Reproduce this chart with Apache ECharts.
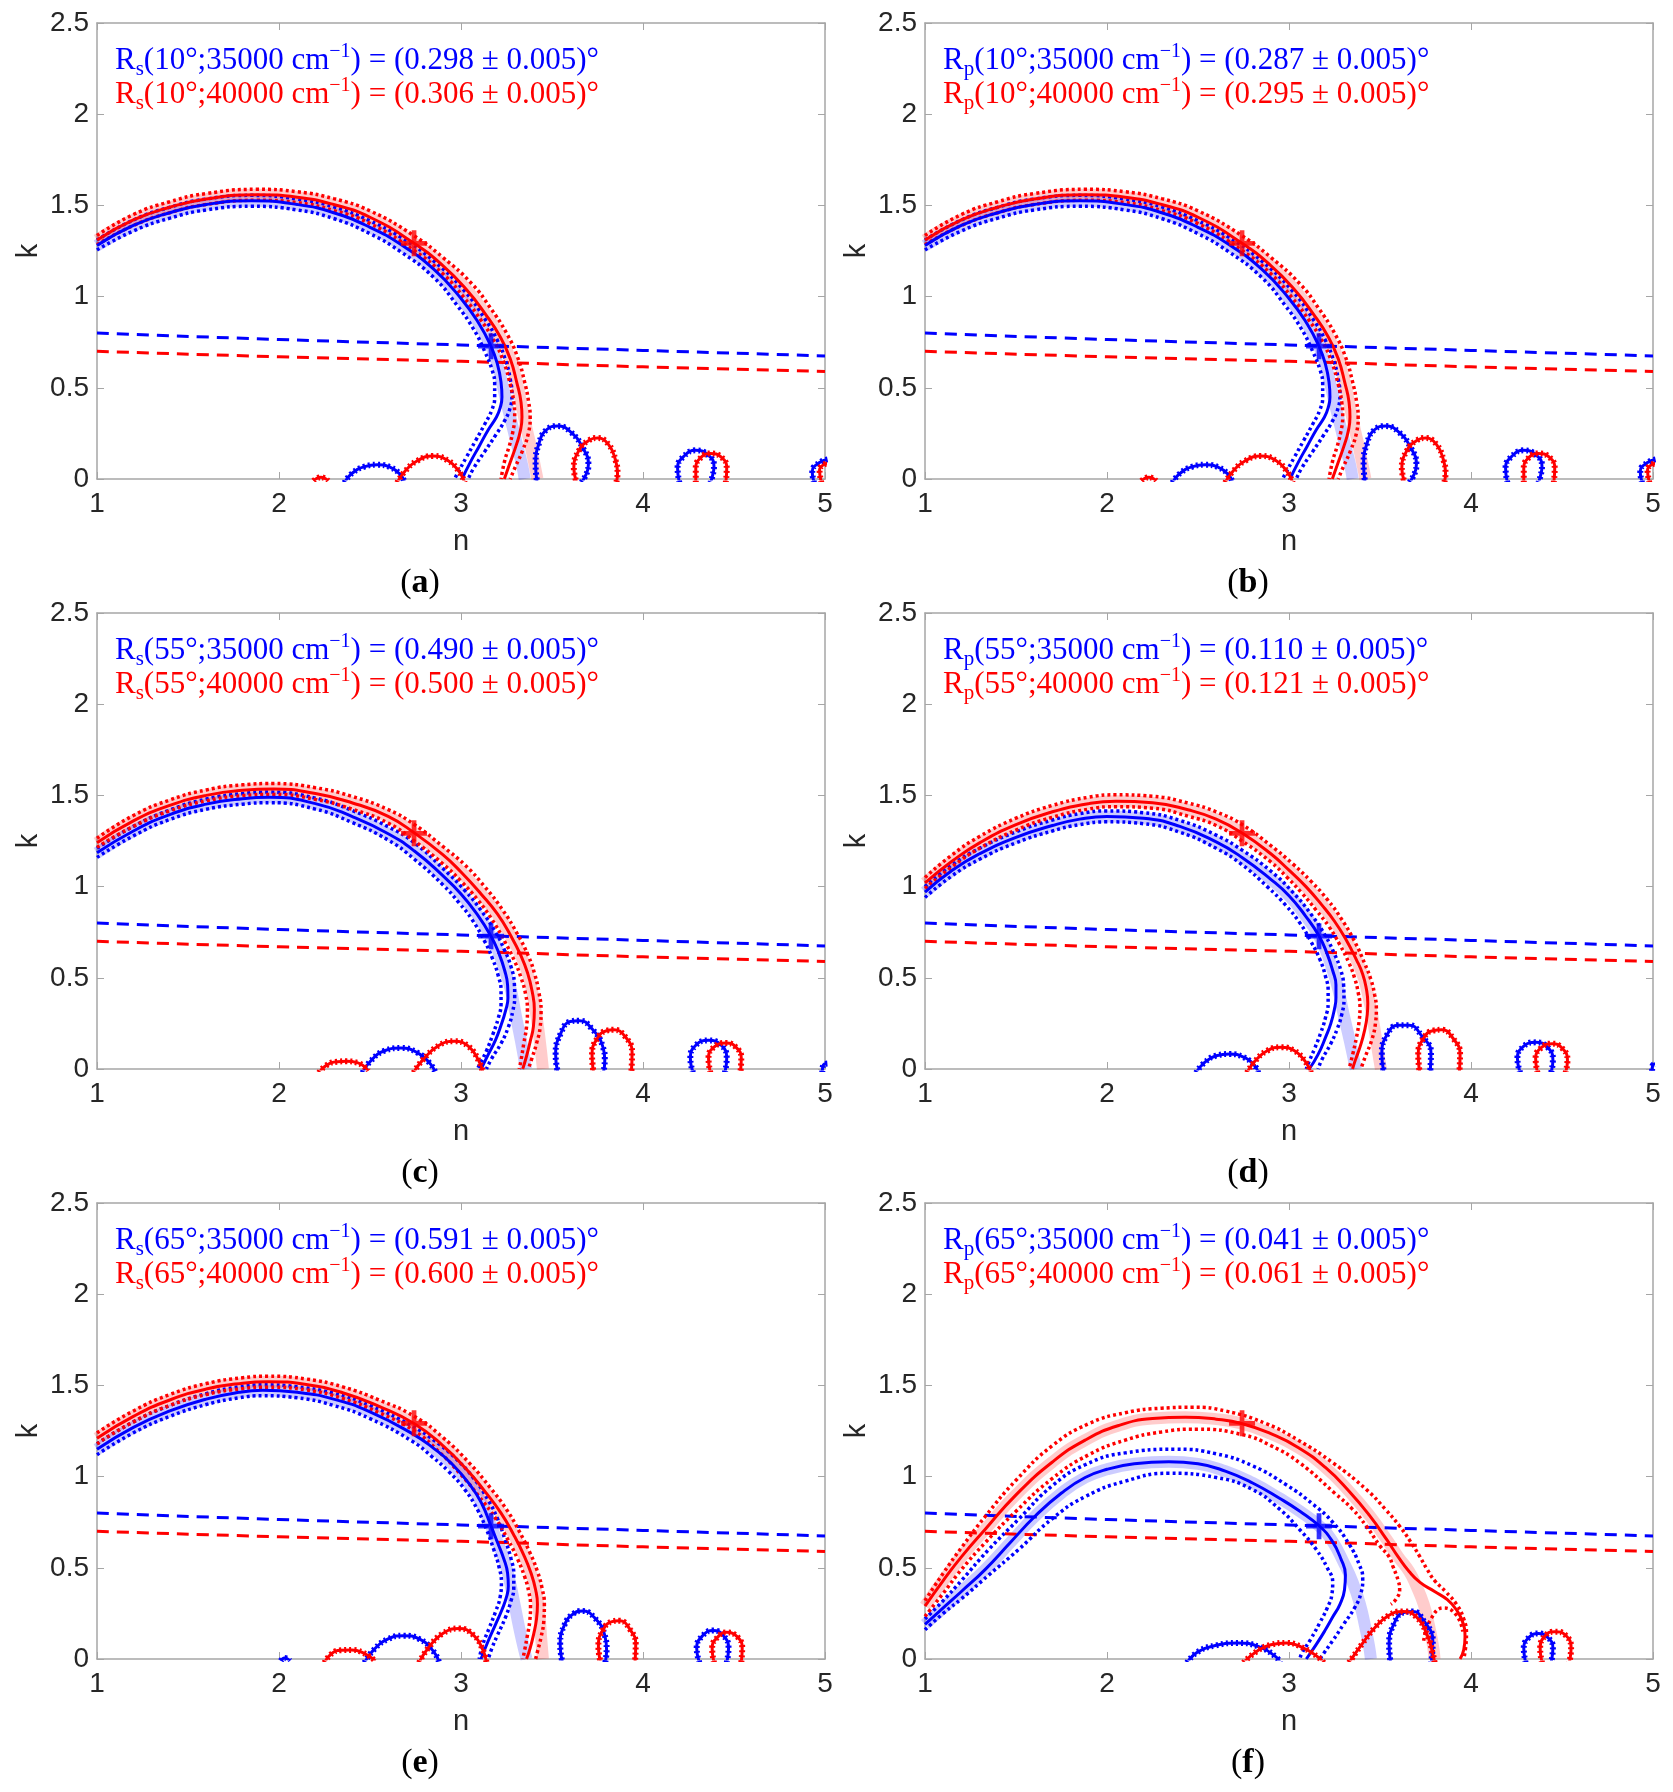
<!DOCTYPE html>
<html>
<head>
<meta charset="utf-8">
<script src="https://cdn.jsdelivr.net/npm/echarts@6/dist/echarts.min.js"></script>
<style>
html,body{margin:0;padding:0;background:#fff;}
#chart{width:1673px;height:1792px;}
</style>
</head>
<body>
<div id="chart"></div>
<script>
// texts of the six panels
var panelLetters = ['a', 'b', 'c', 'd', 'e', 'f'];
var polarization = ['s', 'p', 's', 'p', 's', 'p'];
var angles = ['10', '10', '55', '55', '65', '65'];
var val35000 = ['0.298', '0.287', '0.490', '0.110', '0.591', '0.041'];
var val40000 = ['0.306', '0.295', '0.500', '0.121', '0.600', '0.061'];

var xTicks = [1, 5, 1];      // min, max, interval
var yTicks = [0, 2.5, 0.5];

// dashed n-k dispersion lines (same in every panel)
var blueDash = [[1, 0.80], [2, 0.765], [3, 0.735], [4, 0.705], [5, 0.675]];
var redDash = [[1, 0.70], [2, 0.67], [3, 0.645], [4, 0.615], [5, 0.59]];
var blueCross = [[3.165, 0.728]];
var redCross = [[2.742, 1.292]];

// ---- panels (a) and (b)
var abBlueMain = [[1,1.28],[1.2,1.39],[1.4,1.46],[1.6,1.505],[1.85,1.525],[2.1,1.505],[2.3,1.46],[2.5,1.38],[2.67,1.285],[2.85,1.15],[3.0,0.99],[3.1,0.85],[3.165,0.727],[3.2,0.63],[3.22,0.53],[3.225,0.45],[3.215,0.39],[3.195,0.34],[3.15,0.27],[3.1,0.18],[3.05,0.09],[3.005,0]];
var abBlueBand = [[1,1.28],[1.2,1.39],[1.4,1.46],[1.6,1.505],[1.85,1.525],[2.1,1.505],[2.3,1.46],[2.5,1.38],[2.67,1.285],[2.85,1.15],[3.0,0.99],[3.1,0.85],[3.165,0.727],[3.2,0.63],[3.225,0.53],[3.25,0.42],[3.28,0.3],[3.31,0.18],[3.335,0.08],[3.35,0]];
var abBlueUp = [[1,1.31],[1.2,1.42],[1.4,1.49],[1.6,1.535],[1.85,1.555],[2.1,1.535],[2.3,1.492],[2.5,1.415],[2.67,1.325],[2.85,1.195],[3.02,1.03],[3.13,0.88],[3.2,0.76],[3.245,0.65],[3.27,0.55],[3.28,0.46],[3.27,0.39],[3.24,0.32],[3.19,0.24],[3.13,0.15],[3.07,0.06],[3.04,0]];
var abBlueLow = [[1,1.255],[1.2,1.36],[1.4,1.43],[1.6,1.475],[1.85,1.495],[2.1,1.475],[2.3,1.428],[2.5,1.345],[2.67,1.245],[2.85,1.105],[2.98,0.95],[3.07,0.82],[3.13,0.7],[3.17,0.6],[3.185,0.52],[3.185,0.45],[3.17,0.38],[3.13,0.3],[3.08,0.21],[3.03,0.12],[2.98,0.03],[2.965,0]];
var abRedMain = [[1,1.31],[1.2,1.42],[1.4,1.49],[1.6,1.535],[1.88,1.558],[2.1,1.545],[2.3,1.505],[2.5,1.435],[2.74,1.294],[2.9,1.17],[3.033,1.035],[3.13,0.91],[3.216,0.779],[3.27,0.66],[3.308,0.523],[3.33,0.42],[3.335,0.34],[3.325,0.26],[3.305,0.19],[3.27,0.09],[3.238,0]];
var abRedBand = [[1,1.31],[1.2,1.42],[1.4,1.49],[1.6,1.535],[1.88,1.558],[2.1,1.545],[2.3,1.505],[2.5,1.435],[2.74,1.294],[2.9,1.17],[3.033,1.035],[3.13,0.91],[3.216,0.779],[3.27,0.66],[3.308,0.523],[3.33,0.42],[3.355,0.3],[3.385,0.17],[3.42,0]];
var abRedUp = [[1,1.335],[1.2,1.45],[1.4,1.52],[1.6,1.565],[1.88,1.588],[2.1,1.575],[2.3,1.537],[2.5,1.47],[2.74,1.335],[2.9,1.215],[3.06,1.07],[3.16,0.94],[3.25,0.8],[3.31,0.67],[3.35,0.53],[3.372,0.42],[3.38,0.34],[3.37,0.25],[3.34,0.16],[3.3,0.07],[3.27,0]];
var abRedLow = [[1,1.285],[1.2,1.39],[1.4,1.46],[1.6,1.505],[1.88,1.528],[2.1,1.515],[2.3,1.472],[2.5,1.4],[2.74,1.254],[2.9,1.125],[3.02,0.99],[3.11,0.87],[3.18,0.76],[3.235,0.64],[3.27,0.52],[3.29,0.42],[3.295,0.34],[3.285,0.26],[3.265,0.18],[3.24,0.1],[3.22,0]];
var abBlueLoops = [
  [[2.36,-0.02],[2.40,0.03],[2.47,0.068],[2.54,0.078],[2.61,0.065],[2.67,0.02],[2.69,-0.02]],
  [[3.42,-0.03],[3.41,0.08],[3.43,0.2],[3.47,0.27],[3.53,0.29],[3.60,0.26],[3.67,0.17],[3.70,0.08],[3.68,0.01],[3.65,-0.03]],
  [[4.20,-0.02],[4.19,0.06],[4.22,0.12],[4.29,0.157],[4.36,0.13],[4.39,0.07],[4.38,0.01],[4.37,-0.02]],
  [[4.94,-0.02],[4.93,0.04],[4.97,0.09],[5.03,0.11]]
];
var abRedLoops = [
  [[2.19,-0.01],[2.23,0.01],[2.27,-0.01]],
  [[2.65,-0.02],[2.69,0.04],[2.76,0.1],[2.846,0.126],[2.93,0.1],[2.99,0.04],[3.02,-0.02]],
  [[3.64,-0.03],[3.62,0.06],[3.65,0.16],[3.70,0.21],[3.75,0.225],[3.81,0.19],[3.85,0.1],[3.86,0.03],[3.85,-0.03]],
  [[4.29,-0.02],[4.29,0.06],[4.32,0.12],[4.37,0.14],[4.43,0.12],[4.46,0.06],[4.455,-0.02]],
  [[4.98,-0.02],[4.97,0.05],[5.02,0.09]]
];

// ---- panel (c)
var cBlueMain = [[1,1.185],[1.2,1.305],[1.4,1.395],[1.6,1.452],[1.8,1.482],[1.95,1.49],[2.2,1.455],[2.4,1.385],[2.6,1.29],[2.744,1.195],[2.9,1.06],[3.0,0.96],[3.08,0.86],[3.165,0.728],[3.21,0.63],[3.24,0.54],[3.256,0.46],[3.258,0.39],[3.245,0.32],[3.22,0.24],[3.19,0.16],[3.15,0.08],[3.11,0]];
var cBlueBand = [[1,1.185],[1.2,1.305],[1.4,1.395],[1.6,1.452],[1.8,1.482],[1.95,1.49],[2.2,1.455],[2.4,1.385],[2.6,1.29],[2.744,1.195],[2.9,1.06],[3.0,0.96],[3.08,0.86],[3.165,0.728],[3.21,0.63],[3.245,0.53],[3.275,0.43],[3.3,0.3],[3.33,0.15],[3.357,0]];
var cBlueUp = [[1,1.21],[1.2,1.33],[1.4,1.42],[1.6,1.48],[1.8,1.51],[1.95,1.518],[2.2,1.485],[2.4,1.418],[2.6,1.328],[2.744,1.24],[2.9,1.1],[3.02,0.98],[3.11,0.87],[3.19,0.75],[3.24,0.65],[3.275,0.56],[3.293,0.47],[3.295,0.4],[3.285,0.32],[3.26,0.23],[3.22,0.14],[3.17,0.06],[3.14,0]];
var cBlueLow = [[1,1.16],[1.2,1.278],[1.4,1.368],[1.6,1.424],[1.8,1.452],[1.95,1.46],[2.2,1.425],[2.4,1.352],[2.6,1.255],[2.744,1.15],[2.9,1.01],[2.99,0.91],[3.06,0.82],[3.13,0.7],[3.175,0.6],[3.205,0.51],[3.22,0.43],[3.22,0.36],[3.205,0.28],[3.175,0.19],[3.14,0.1],[3.1,0.02],[3.09,0]];
var cRedMain = [[1,1.24],[1.2,1.36],[1.4,1.445],[1.6,1.5],[1.8,1.528],[1.97,1.535],[2.2,1.51],[2.4,1.46],[2.6,1.385],[2.744,1.294],[2.9,1.175],[3.0,1.08],[3.11,0.96],[3.2,0.85],[3.275,0.728],[3.33,0.62],[3.366,0.526],[3.39,0.43],[3.403,0.325],[3.398,0.234],[3.38,0.15],[3.36,0.07],[3.339,0]];
var cRedBand = [[1,1.24],[1.2,1.36],[1.4,1.445],[1.6,1.5],[1.8,1.528],[1.97,1.535],[2.2,1.51],[2.4,1.46],[2.6,1.385],[2.744,1.294],[2.9,1.175],[3.0,1.08],[3.11,0.96],[3.2,0.85],[3.275,0.728],[3.33,0.62],[3.366,0.526],[3.39,0.43],[3.41,0.32],[3.43,0.18],[3.45,0]];
var cRedUp = [[1,1.265],[1.2,1.39],[1.4,1.475],[1.6,1.53],[1.8,1.558],[1.97,1.565],[2.2,1.542],[2.4,1.495],[2.6,1.422],[2.744,1.34],[2.9,1.22],[3.02,1.12],[3.13,1.0],[3.23,0.87],[3.31,0.74],[3.37,0.62],[3.405,0.52],[3.428,0.42],[3.44,0.32],[3.435,0.23],[3.415,0.14],[3.39,0.06],[3.37,0]];
var cRedLow = [[1,1.215],[1.2,1.33],[1.4,1.415],[1.6,1.47],[1.8,1.498],[1.97,1.505],[2.2,1.478],[2.4,1.425],[2.6,1.348],[2.744,1.25],[2.9,1.125],[3.0,1.03],[3.09,0.93],[3.17,0.82],[3.24,0.7],[3.295,0.59],[3.33,0.5],[3.355,0.41],[3.365,0.32],[3.36,0.23],[3.345,0.14],[3.33,0.05],[3.32,0]];
var cBlueLoops = [
  [[2.46,-0.02],[2.5,0.04],[2.58,0.1],[2.67,0.115],[2.76,0.09],[2.83,0.03],[2.86,-0.02]],
  [[3.535,-0.03],[3.52,0.08],[3.55,0.2],[3.6,0.26],[3.65,0.265],[3.72,0.22],[3.78,0.12],[3.79,0.05],[3.78,-0.03]],
  [[4.275,-0.02],[4.26,0.06],[4.29,0.13],[4.36,0.157],[4.43,0.13],[4.46,0.06],[4.45,-0.02]],
  [[4.985,-0.02],[4.99,0.02],[5.02,0.03]]
];
var cRedLoops = [
  [[2.22,-0.02],[2.26,0.02],[2.32,0.04],[2.37,0.042],[2.43,0.035],[2.49,-0.01]],
  [[2.74,-0.02],[2.79,0.05],[2.88,0.13],[2.963,0.152],[3.04,0.125],[3.1,0.04],[3.12,-0.02]],
  [[3.73,-0.03],[3.72,0.08],[3.75,0.17],[3.8,0.21],[3.84,0.215],[3.9,0.18],[3.94,0.09],[3.935,-0.03]],
  [[4.37,-0.02],[4.36,0.06],[4.39,0.12],[4.456,0.143],[4.51,0.12],[4.54,0.06],[4.535,-0.02]]
];

// ---- panel (d)
var dBlueMain = [[1,0.97],[1.15,1.09],[1.3,1.18],[1.5,1.27],[1.7,1.335],[1.85,1.37],[2.0,1.385],[2.2,1.375],[2.4,1.33],[2.6,1.245],[2.742,1.16],[2.9,1.04],[3.0,0.95],[3.09,0.84],[3.166,0.728],[3.21,0.63],[3.24,0.54],[3.258,0.46],[3.258,0.39],[3.249,0.325],[3.23,0.25],[3.203,0.179],[3.16,0.08],[3.111,0]];
var dBlueBand = [[1,0.97],[1.15,1.09],[1.3,1.18],[1.5,1.27],[1.7,1.335],[1.85,1.37],[2.0,1.385],[2.2,1.375],[2.4,1.33],[2.6,1.245],[2.742,1.16],[2.9,1.04],[3.0,0.95],[3.09,0.84],[3.166,0.728],[3.21,0.63],[3.24,0.54],[3.27,0.44],[3.3,0.3],[3.335,0.15],[3.367,0]];
var dBlueUp = [[1,1.0],[1.15,1.12],[1.3,1.21],[1.5,1.3],[1.7,1.365],[1.85,1.4],[2.0,1.415],[2.2,1.405],[2.4,1.363],[2.6,1.282],[2.742,1.2],[2.9,1.085],[3.02,0.97],[3.12,0.85],[3.2,0.73],[3.25,0.63],[3.285,0.54],[3.3,0.46],[3.302,0.38],[3.29,0.3],[3.265,0.22],[3.23,0.14],[3.18,0.05],[3.16,0]];
var dBlueLow = [[1,0.94],[1.15,1.06],[1.3,1.15],[1.5,1.24],[1.7,1.305],[1.85,1.34],[2.0,1.355],[2.2,1.345],[2.4,1.298],[2.6,1.21],[2.742,1.12],[2.88,1.0],[2.98,0.9],[3.06,0.8],[3.12,0.7],[3.17,0.6],[3.2,0.51],[3.215,0.43],[3.215,0.36],[3.2,0.28],[3.175,0.2],[3.14,0.11],[3.11,0.04],[3.095,0]];
var dRedMain = [[1,1.02],[1.15,1.14],[1.3,1.24],[1.5,1.34],[1.7,1.41],[1.9,1.455],[2.05,1.468],[2.25,1.46],[2.45,1.42],[2.6,1.37],[2.742,1.294],[2.9,1.18],[3.0,1.09],[3.093,1.0],[3.18,0.9],[3.25,0.81],[3.313,0.71],[3.37,0.6],[3.405,0.52],[3.425,0.44],[3.433,0.36],[3.43,0.3],[3.415,0.21],[3.39,0.12],[3.365,0.05],[3.349,0]];
var dRedBand = [[1,1.02],[1.15,1.14],[1.3,1.24],[1.5,1.34],[1.7,1.41],[1.9,1.455],[2.05,1.468],[2.25,1.46],[2.45,1.42],[2.6,1.37],[2.742,1.294],[2.9,1.18],[3.0,1.09],[3.093,1.0],[3.18,0.9],[3.25,0.81],[3.313,0.71],[3.37,0.6],[3.41,0.5],[3.44,0.38],[3.465,0.25],[3.485,0.12],[3.505,0]];
var dRedUp = [[1,1.05],[1.15,1.175],[1.3,1.275],[1.5,1.375],[1.7,1.445],[1.9,1.49],[2.05,1.503],[2.25,1.495],[2.45,1.457],[2.6,1.41],[2.742,1.34],[2.9,1.225],[3.02,1.125],[3.12,1.03],[3.21,0.93],[3.29,0.82],[3.36,0.7],[3.415,0.58],[3.45,0.49],[3.47,0.41],[3.48,0.33],[3.475,0.25],[3.455,0.16],[3.42,0.07],[3.395,0]];
var dRedLow = [[1,0.99],[1.15,1.11],[1.3,1.21],[1.5,1.31],[1.7,1.38],[1.9,1.425],[2.05,1.438],[2.25,1.43],[2.45,1.385],[2.6,1.335],[2.742,1.25],[2.9,1.135],[2.99,1.05],[3.07,0.965],[3.15,0.87],[3.22,0.78],[3.28,0.68],[3.33,0.58],[3.36,0.5],[3.38,0.42],[3.39,0.34],[3.385,0.26],[3.37,0.17],[3.35,0.08],[3.33,0]];
var dBlueLoops = [
  [[2.49,-0.02],[2.53,0.03],[2.6,0.073],[2.673,0.082],[2.75,0.065],[2.81,0.02],[2.83,-0.02]],
  [[3.525,-0.03],[3.51,0.08],[3.54,0.19],[3.6,0.24],[3.66,0.24],[3.73,0.18],[3.78,0.09],[3.775,-0.03]],
  [[4.27,-0.02],[4.255,0.06],[4.29,0.125],[4.355,0.146],[4.42,0.12],[4.45,0.05],[4.44,-0.02]],
  [[4.995,-0.01],[4.998,0.02],[5.02,0.03]]
];
var dRedLoops = [
  [[2.77,-0.02],[2.81,0.04],[2.88,0.1],[2.956,0.119],[3.03,0.1],[3.09,0.04],[3.12,-0.02]],
  [[3.72,-0.03],[3.71,0.08],[3.74,0.17],[3.79,0.21],[3.84,0.215],[3.9,0.17],[3.94,0.08],[3.935,-0.03]],
  [[4.365,-0.02],[4.355,0.06],[4.39,0.12],[4.446,0.139],[4.5,0.115],[4.53,0.05],[4.52,-0.02]]
];

// ---- panel (e)
var eBlueMain = [[1,1.15],[1.2,1.27],[1.4,1.36],[1.6,1.425],[1.78,1.462],[1.91,1.473],[2.1,1.462],[2.3,1.425],[2.5,1.355],[2.73,1.237],[2.85,1.155],[2.95,1.07],[3.05,0.955],[3.115,0.85],[3.163,0.734],[3.2,0.64],[3.235,0.55],[3.256,0.47],[3.26,0.4],[3.25,0.34],[3.225,0.27],[3.19,0.19],[3.15,0.1],[3.11,0]];
var eBlueBand = [[1,1.15],[1.2,1.27],[1.4,1.36],[1.6,1.425],[1.78,1.462],[1.91,1.473],[2.1,1.462],[2.3,1.425],[2.5,1.355],[2.73,1.237],[2.85,1.155],[2.95,1.07],[3.05,0.955],[3.115,0.85],[3.163,0.734],[3.2,0.64],[3.235,0.55],[3.26,0.46],[3.29,0.32],[3.32,0.17],[3.345,0.06],[3.36,0]];
var eBlueUp = [[1,1.18],[1.2,1.3],[1.4,1.39],[1.6,1.455],[1.78,1.492],[1.91,1.503],[2.1,1.492],[2.3,1.457],[2.5,1.39],[2.73,1.278],[2.85,1.2],[2.97,1.1],[3.07,0.99],[3.15,0.87],[3.2,0.77],[3.24,0.66],[3.275,0.55],[3.29,0.46],[3.29,0.39],[3.275,0.32],[3.245,0.23],[3.2,0.13],[3.17,0.06],[3.15,0]];
var eBlueLow = [[1,1.12],[1.2,1.24],[1.4,1.33],[1.6,1.395],[1.78,1.432],[1.91,1.443],[2.1,1.432],[2.3,1.39],[2.5,1.318],[2.73,1.195],[2.84,1.11],[2.93,1.03],[3.02,0.93],[3.09,0.82],[3.14,0.71],[3.18,0.6],[3.21,0.5],[3.222,0.42],[3.215,0.34],[3.19,0.26],[3.155,0.17],[3.12,0.08],[3.1,0]];
var eRedMain = [[1,1.21],[1.2,1.33],[1.4,1.42],[1.6,1.48],[1.8,1.512],[1.94,1.52],[2.15,1.505],[2.35,1.46],[2.55,1.385],[2.744,1.29],[2.9,1.17],[3.03,1.04],[3.13,0.92],[3.22,0.8],[3.29,0.68],[3.345,0.57],[3.385,0.47],[3.41,0.38],[3.42,0.3],[3.415,0.22],[3.4,0.14],[3.38,0.06],[3.36,0]];
var eRedBand = [[1,1.21],[1.2,1.33],[1.4,1.42],[1.6,1.48],[1.8,1.512],[1.94,1.52],[2.15,1.505],[2.35,1.46],[2.55,1.385],[2.744,1.29],[2.9,1.17],[3.03,1.04],[3.13,0.92],[3.22,0.8],[3.29,0.68],[3.345,0.57],[3.385,0.47],[3.41,0.38],[3.43,0.25],[3.44,0.12],[3.45,0]];
var eRedUp = [[1,1.24],[1.2,1.36],[1.4,1.45],[1.6,1.51],[1.8,1.542],[1.94,1.55],[2.15,1.535],[2.35,1.492],[2.55,1.42],[2.744,1.33],[2.9,1.215],[3.05,1.07],[3.16,0.94],[3.25,0.82],[3.32,0.7],[3.38,0.58],[3.42,0.48],[3.445,0.39],[3.458,0.3],[3.455,0.21],[3.44,0.12],[3.42,0.04],[3.41,0]];
var eRedLow = [[1,1.18],[1.2,1.3],[1.4,1.39],[1.6,1.45],[1.8,1.482],[1.94,1.49],[2.15,1.475],[2.35,1.428],[2.55,1.35],[2.744,1.25],[2.88,1.135],[3.0,1.01],[3.1,0.89],[3.19,0.77],[3.26,0.65],[3.31,0.55],[3.35,0.45],[3.372,0.37],[3.382,0.29],[3.378,0.21],[3.365,0.13],[3.35,0.05],[3.34,0]];
var eBlueLoops = [
  [[2.01,-0.01],[2.03,0.006],[2.06,-0.01]],
  [[2.47,-0.02],[2.52,0.05],[2.6,0.11],[2.685,0.128],[2.77,0.11],[2.85,0.04],[2.88,-0.02]],
  [[3.56,-0.03],[3.545,0.08],[3.57,0.19],[3.62,0.25],[3.667,0.263],[3.73,0.23],[3.79,0.13],[3.80,0.05],[3.79,-0.03]],
  [[4.31,-0.02],[4.295,0.06],[4.33,0.13],[4.385,0.156],[4.44,0.13],[4.47,0.06],[4.46,-0.02]]
];
var eRedLoops = [
  [[2.25,-0.02],[2.29,0.03],[2.34,0.048],[2.4,0.05],[2.46,0.035],[2.53,-0.01]],
  [[2.77,-0.02],[2.82,0.06],[2.9,0.14],[2.99,0.167],[3.07,0.13],[3.12,0.05],[3.14,-0.02]],
  [[3.77,-0.03],[3.755,0.07],[3.78,0.16],[3.83,0.205],[3.87,0.21],[3.93,0.16],[3.96,0.08],[3.955,-0.03]],
  [[4.39,-0.02],[4.38,0.06],[4.41,0.12],[4.46,0.146],[4.52,0.12],[4.545,0.06],[4.54,-0.02]]
];

// ---- panel (f)
var fBlueMain = [[1,0.19],[1.1,0.28],[1.2,0.37],[1.33,0.49],[1.47,0.64],[1.606,0.784],[1.75,0.91],[1.88,0.995],[2.0,1.04],[2.15,1.07],[2.34,1.081],[2.5,1.07],[2.65,1.03],[2.8,0.965],[2.95,0.88],[3.06,0.81],[3.168,0.728],[3.235,0.65],[3.285,0.55],[3.31,0.46],[3.305,0.38],[3.28,0.3],[3.24,0.23],[3.2,0.16],[3.15,0.08],[3.095,0]];
var fBlueBand = [[1,0.19],[1.1,0.28],[1.2,0.37],[1.33,0.49],[1.47,0.64],[1.606,0.784],[1.75,0.91],[1.88,0.995],[2.0,1.04],[2.15,1.07],[2.34,1.081],[2.5,1.07],[2.65,1.03],[2.8,0.965],[2.95,0.88],[3.06,0.81],[3.168,0.728],[3.235,0.65],[3.3,0.53],[3.35,0.42],[3.39,0.3],[3.42,0.17],[3.44,0.07],[3.45,0]];
var fBlueUp = [[1,0.22],[1.1,0.32],[1.2,0.43],[1.35,0.6],[1.514,0.766],[1.7,0.95],[1.88,1.065],[2.1,1.13],[2.376,1.15],[2.6,1.125],[2.798,1.06],[2.985,0.955],[3.13,0.85],[3.24,0.75],[3.33,0.63],[3.385,0.52],[3.405,0.44],[3.395,0.36],[3.36,0.28],[3.3,0.19],[3.24,0.1],[3.19,0.03],[3.17,0]];
var fBlueLow = [[1,0.16],[1.1,0.25],[1.2,0.33],[1.35,0.46],[1.514,0.6],[1.7,0.77],[1.88,0.89],[2.1,0.975],[2.34,1.018],[2.6,0.995],[2.798,0.93],[2.95,0.82],[3.058,0.71],[3.15,0.6],[3.21,0.5],[3.24,0.42],[3.235,0.35],[3.21,0.28],[3.17,0.2],[3.12,0.11],[3.07,0.03],[3.06,0]];
var fRedMain = [[1,0.29],[1.1,0.43],[1.2,0.56],[1.33,0.71],[1.5,0.9],[1.7,1.08],[1.88,1.2],[2.064,1.28],[2.25,1.318],[2.43,1.326],[2.6,1.315],[2.744,1.29],[2.9,1.235],[3.05,1.16],[3.2,1.05],[3.33,0.92],[3.44,0.79],[3.54,0.65],[3.6,0.56],[3.66,0.48],[3.72,0.42],[3.8,0.37],[3.87,0.325],[3.92,0.27],[3.955,0.2],[3.967,0.12],[3.96,0.05],[3.94,0]];
var fRedBand = [[1,0.29],[1.1,0.43],[1.2,0.56],[1.33,0.71],[1.5,0.9],[1.7,1.08],[1.88,1.2],[2.064,1.28],[2.25,1.318],[2.43,1.326],[2.6,1.315],[2.744,1.29],[2.9,1.235],[3.05,1.16],[3.2,1.05],[3.33,0.92],[3.44,0.79],[3.54,0.65],[3.6,0.56],[3.66,0.48],[3.7,0.4],[3.74,0.3],[3.77,0.18],[3.79,0.08],[3.8,0]];
var fRedUp = [[1,0.32],[1.1,0.47],[1.2,0.61],[1.33,0.78],[1.5,0.98],[1.7,1.17],[1.9,1.29],[2.1,1.35],[2.3,1.375],[2.468,1.38],[2.65,1.36],[2.875,1.29],[3.05,1.2],[3.242,1.075],[3.425,0.929],[3.53,0.82],[3.608,0.728],[3.67,0.64],[3.718,0.563],[3.76,0.49],[3.8,0.43],[3.86,0.37],[3.92,0.3],[3.96,0.22],[3.975,0.14],[3.97,0.06],[3.96,0]];
var fRedLow = [[1,0.234],[1.1,0.36],[1.2,0.49],[1.33,0.637],[1.5,0.81],[1.7,0.99],[1.9,1.12],[2.1,1.2],[2.3,1.245],[2.5,1.26],[2.744,1.23],[2.9,1.17],[3.059,1.075],[3.25,0.91],[3.35,0.82],[3.425,0.728],[3.5,0.62],[3.55,0.56],[3.571,0.508],[3.6,0.43],[3.608,0.38],[3.59,0.33],[3.56,0.3]];
var fRedDotBump = [[3.74,0.1],[3.78,0.22],[3.85,0.28],[3.92,0.24],[3.955,0.15]];
var fBlueLoops = [
  [[2.44,-0.02],[2.5,0.04],[2.6,0.075],[2.72,0.088],[2.84,0.065],[2.93,0.01],[2.95,-0.02]],
  [[3.56,-0.03],[3.55,0.08],[3.58,0.2],[3.63,0.255],[3.68,0.26],[3.74,0.21],[3.79,0.1],[3.78,-0.03]],
  [[4.3,-0.02],[4.29,0.06],[4.32,0.12],[4.37,0.14],[4.42,0.12],[4.45,0.06],[4.44,-0.02]]
];
var fRedLoops = [
  [[2.75,-0.02],[2.82,0.04],[2.9,0.078],[2.985,0.088],[3.08,0.06],[3.16,0.01],[3.19,-0.02]],
  [[3.33,-0.02],[3.4,0.08],[3.47,0.17],[3.55,0.24],[3.626,0.261],[3.7,0.23],[3.76,0.13],[3.79,0.03],[3.8,-0.02]],
  [[4.39,-0.02],[4.38,0.06],[4.41,0.13],[4.46,0.15],[4.52,0.13],[4.55,0.06],[4.54,-0.02]]
];

var BLUE = '#0000ff', RED = '#ff0000';
var gridLeft = [97, 925], gridTop = [23, 613, 1203];
var gridW = 728, gridH = 456;

var curveSets = [
  {bm: abBlueMain, bb: abBlueBand, bu: abBlueUp, bl: abBlueLow, rm: abRedMain, rb: abRedBand, ru: abRedUp, rl: abRedLow, bloops: abBlueLoops, rloops: abRedLoops},
  {bm: abBlueMain, bb: abBlueBand, bu: abBlueUp, bl: abBlueLow, rm: abRedMain, rb: abRedBand, ru: abRedUp, rl: abRedLow, bloops: abBlueLoops, rloops: abRedLoops},
  {bm: cBlueMain, bb: cBlueBand, bu: cBlueUp, bl: cBlueLow, rm: cRedMain, rb: cRedBand, ru: cRedUp, rl: cRedLow, bloops: cBlueLoops, rloops: cRedLoops},
  {bm: dBlueMain, bb: dBlueBand, bu: dBlueUp, bl: dBlueLow, rm: dRedMain, rb: dRedBand, ru: dRedUp, rl: dRedLow, bloops: dBlueLoops, rloops: dRedLoops},
  {bm: eBlueMain, bb: eBlueBand, bu: eBlueUp, bl: eBlueLow, rm: eRedMain, rb: eRedBand, ru: eRedUp, rl: eRedLow, bloops: eBlueLoops, rloops: eRedLoops},
  {bm: fBlueMain, bb: fBlueBand, bu: fBlueUp, bl: fBlueLow, rm: fRedMain, rb: fRedBand, ru: fRedUp, rl: fRedLow, bloops: fBlueLoops, rloops: fRedLoops, rextra: fRedDotBump}
];

function curve(idx, data, color, width, type, opacity, z) {
  return {
    type: 'line', xAxisIndex: idx, yAxisIndex: idx, data: data,
    showSymbol: false, symbol: 'none', smooth: 0.5, silent: true, z: z,
    lineStyle: {color: color, width: width, type: type, opacity: opacity, cap: 'butt'}
  };
}

var PLUS = 'path://M9,0h4v9h9v4h-9v9h-4v-9h-9v-4h9z';

var grids = [], xAxes = [], yAxes = [], series = [], graphics = [];
var tickColor = '#a6a6a6', labelColor = '#262626';
var labelFont = {fontFamily: 'Liberation Sans', fontSize: 28, color: labelColor};

for (var i = 0; i < 6; i++) {
  var col = i % 2, row = Math.floor(i / 2);
  grids.push({left: gridLeft[col], top: gridTop[row], width: gridW, height: gridH});
}
// main axes (0..5) then box axes (6..11)
for (var i = 0; i < 6; i++) {
  xAxes.push({
    gridIndex: i, type: 'value', position: 'bottom', min: xTicks[0], max: xTicks[1], interval: xTicks[2],
    name: 'n', nameLocation: 'middle', nameGap: 48,
    nameTextStyle: {fontFamily: 'Liberation Sans', fontSize: 29, color: labelColor},
    axisLine: {onZero: false, lineStyle: {color: tickColor, width: 1.5}},
    axisTick: {inside: true, length: 7, lineStyle: {color: tickColor}},
    axisLabel: Object.assign({margin: 11}, labelFont),
    splitLine: {show: false}
  });
  yAxes.push({
    gridIndex: i, type: 'value', position: 'left', min: yTicks[0], max: yTicks[1], interval: yTicks[2],
    name: 'k', nameLocation: 'middle', nameGap: 54, nameRotate: 90,
    nameTextStyle: {fontFamily: 'Liberation Sans', fontSize: 29, color: labelColor},
    axisLine: {onZero: false, lineStyle: {color: tickColor, width: 1.5}},
    axisTick: {inside: true, length: 7, lineStyle: {color: tickColor}},
    axisLabel: Object.assign({margin: 8}, labelFont),
    splitLine: {show: false}
  });
}
for (var i = 0; i < 6; i++) {
  xAxes.push({
    gridIndex: i, type: 'value', position: 'top', min: xTicks[0], max: xTicks[1], interval: xTicks[2],
    axisLine: {onZero: false, lineStyle: {color: tickColor, width: 1.5}},
    axisTick: {inside: true, length: 7, lineStyle: {color: tickColor}},
    axisLabel: {show: false}, splitLine: {show: false}
  });
  yAxes.push({
    gridIndex: i, type: 'value', position: 'right', min: yTicks[0], max: yTicks[1], interval: yTicks[2],
    axisLine: {onZero: false, lineStyle: {color: tickColor, width: 1.5}},
    axisTick: {inside: true, length: 7, lineStyle: {color: tickColor}},
    axisLabel: {show: false}, splitLine: {show: false}
  });
}

for (var i = 0; i < 6; i++) {
  var c = curveSets[i];
  series.push(curve(i, c.bb, BLUE, 12, 'solid', 0.2, 1));
  series.push(curve(i, c.rb, RED, 12, 'solid', 0.2, 1));
  series.push(curve(i, blueDash, BLUE, 3, [12, 8], 1, 2));
  series.push(curve(i, redDash, RED, 3, [12, 8], 1, 2));
  series.push(curve(i, c.bu, BLUE, 3.5, [3, 3], 1, 3));
  series.push(curve(i, c.bl, BLUE, 3.5, [3, 3], 1, 3));
  series.push(curve(i, c.ru, RED, 3.5, [3, 3], 1, 3));
  series.push(curve(i, c.rl, RED, 3.5, [3, 3], 1, 3));
  if (c.rextra) series.push(curve(i, c.rextra, RED, 3.5, [3, 3], 1, 3));
  series.push(curve(i, c.bm, BLUE, 3, 'solid', 1, 4));
  series.push(curve(i, c.rm, RED, 3, 'solid', 1, 4));
  // small loops near k = 0 look beaded: solid line with a thicker dotted trace on top
  c.bloops.forEach(function (d) {
    series.push(curve(i, d, BLUE, 3, 'solid', 1, 4));
    series.push(curve(i, d, BLUE, 6, [2, 3], 1, 4));
  });
  c.rloops.forEach(function (d) {
    series.push(curve(i, d, RED, 3, 'solid', 1, 4));
    series.push(curve(i, d, RED, 6, [2, 3], 1, 4));
  });
  series.push({type: 'scatter', xAxisIndex: i, yAxisIndex: i, data: blueCross, symbol: PLUS, symbolSize: 26,
    itemStyle: {color: BLUE}, silent: true, z: 5});
  series.push({type: 'scatter', xAxisIndex: i, yAxisIndex: i, data: redCross, symbol: PLUS, symbolSize: 26,
    itemStyle: {color: RED}, silent: true, z: 5});

  var col = i % 2, row = Math.floor(i / 2);
  var tx = gridLeft[col] + 18, ty = gridTop[row] + 19;
  var rich = {
    m: {fontFamily: 'Liberation Serif', fontSize: 31, lineHeight: 38},
    sub: {fontFamily: 'Liberation Serif', fontSize: 21, lineHeight: 21, verticalAlign: 'bottom'},
    sup: {fontFamily: 'Liberation Serif', fontSize: 20, lineHeight: 20, verticalAlign: 'top'}
  };
  [[ '35000', val35000[i], BLUE ], [ '40000', val40000[i], RED ]].forEach(function (ln, j) {
    graphics.push({
      type: 'text', x: tx, y: ty + j * 34, silent: true,
      style: {
        text: '{m|R}{sub|' + polarization[i] + '}{m|(' + angles[i] + '°;' + ln[0] + ' cm}{sup|−1}{m|) = (' + ln[1] + ' ± 0.005)°}',
        rich: rich, fill: ln[2], verticalAlign: 'top', align: 'left'
      }
    });
  });
  graphics.push({
    type: 'text', x: gridLeft[col] + gridW / 2 - 41, y: gridTop[row] + gridH + 104, silent: true,
    style: {
      text: '{p|(}{b|' + panelLetters[i] + '}{p|)}',
      rich: {p: {fontFamily: 'Liberation Serif', fontSize: 34}, b: {fontFamily: 'Liberation Serif', fontSize: 34, fontWeight: 'bold'}},
      fill: '#000', align: 'center', verticalAlign: 'middle'
    }
  });
}

var chart = echarts.init(document.getElementById('chart'));
chart.setOption({
  backgroundColor: '#ffffff',
  animation: false,
  grid: grids,
  xAxis: xAxes,
  yAxis: yAxes,
  series: series,
  graphic: graphics
});
</script>
</body>
</html>
